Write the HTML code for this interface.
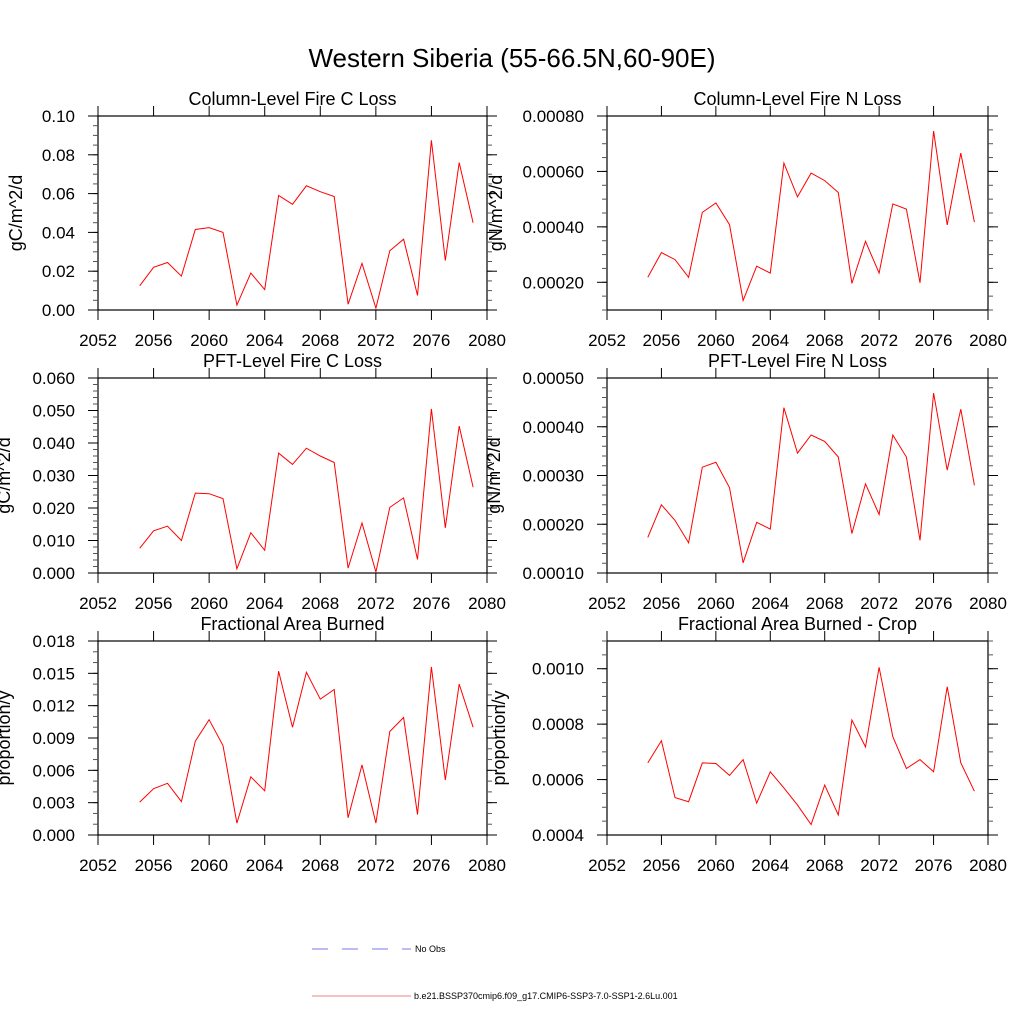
<!DOCTYPE html>
<html><head><meta charset="utf-8"><style>
body{margin:0;background:#fff}
svg{display:block;font-family:"Liberation Sans",sans-serif}
</style></head><body>
<svg id="chart" width="1024" height="1024" viewBox="0 0 1024 1024" xmlns="http://www.w3.org/2000/svg">
<rect width="1024" height="1024" fill="#fff"/>
<text x="512" y="67" font-size="26" text-anchor="middle">Western Siberia (55-66.5N,60-90E)</text>
<g id="panels"></g>
<g>
<line x1="312" y1="949" x2="411" y2="949" stroke="#7777ee" stroke-width="1" stroke-dasharray="16,14"/>
<text x="415" y="952" font-size="9">No Obs</text>
<line x1="312" y1="996" x2="411" y2="996" stroke="#f08080" stroke-width="1"/>
<text x="414" y="999" font-size="9">b.e21.BSSP370cmip6.f09_g17.CMIP6-SSP3-7.0-SSP1-2.6Lu.001</text>
</g>
</svg>
<script>
const years = [2055,2056,2057,2058,2059,2060,2061,2062,2063,2064,2065,2066,2067,2068,2069,2070,2071,2072,2073,2074,2075,2076,2077,2078,2079];
const xTicks = [2052,2056,2060,2064,2068,2072,2076,2080];
const colC = [0.0125,0.022,0.0245,0.0175,0.0415,0.0425,0.040,0.0025,0.019,0.0105,0.059,0.0545,0.064,0.061,0.0585,0.003,0.024,0.001,0.0305,0.0365,0.0075,0.0875,0.0255,0.076,0.045];
const colN = [0.000218,0.000307,0.000282,0.000218,0.000452,0.000486,0.000408,0.000134,0.000258,0.000233,0.00063,0.000508,0.000594,0.000567,0.000524,0.000196,0.000348,0.000233,0.000483,0.000464,0.000198,0.000746,0.000407,0.000666,0.000417];
const pftC = [0.0076,0.013,0.0144,0.010,0.0246,0.0244,0.0229,0.0013,0.0124,0.007,0.0369,0.0334,0.0384,0.036,0.034,0.0015,0.0154,0.0003,0.0202,0.0231,0.0042,0.0505,0.0139,0.0452,0.0264];
const pftN = [0.000173,0.00024,0.000208,0.000162,0.000317,0.000327,0.000275,0.000121,0.000204,0.00019,0.000439,0.000346,0.000383,0.00037,0.000338,0.000181,0.000283,0.00022,0.000383,0.000338,0.000167,0.000469,0.000311,0.000436,0.00028];
const fab = [0.00305,0.0043,0.0048,0.0031,0.0087,0.0107,0.0083,0.0011,0.0054,0.0041,0.0152,0.0100,0.0151,0.0126,0.0135,0.0016,0.0065,0.0011,0.0096,0.0109,0.0019,0.0156,0.0051,0.0140,0.0100];
const fabCrop = [0.00066,0.00074,0.000535,0.00052,0.00066,0.000658,0.000615,0.000672,0.000515,0.000628,0.00057,0.000508,0.000438,0.00058,0.000472,0.000815,0.000718,0.001005,0.000755,0.00064,0.000672,0.000628,0.000935,0.00066,0.000558];
const ticksColC = [0.00,0.02,0.04,0.06,0.08,0.10];
const labelsColC = ["0.00","0.02","0.04","0.06","0.08","0.10"];
const ticksColN = [0.0002,0.0004,0.0006,0.0008];
const labelsColN = ["0.00020","0.00040","0.00060","0.00080"];
const ticksPftC = [0,0.01,0.02,0.03,0.04,0.05,0.06];
const labelsPftC = ["0.000","0.010","0.020","0.030","0.040","0.050","0.060"];
const ticksPftN = [0.0001,0.0002,0.0003,0.0004,0.0005];
const labelsPftN = ["0.00010","0.00020","0.00030","0.00040","0.00050"];
const ticksFab = [0,0.003,0.006,0.009,0.012,0.015,0.018];
const labelsFab = ["0.000","0.003","0.006","0.009","0.012","0.015","0.018"];
const ticksCrop = [0.0004,0.0006,0.0008,0.0010];
const labelsCrop = ["0.0004","0.0006","0.0008","0.0010"];

const NS="http://www.w3.org/2000/svg";
const root=document.getElementById('panels');
function mk(tag,attrs,parent){const e=document.createElementNS(NS,tag);for(const k in attrs)e.setAttribute(k,attrs[k]);parent.appendChild(e);return e;}

function panel(cfg){
  const g=mk('g',{},root);
  
  
  const L=cfg.x0,R=cfg.x1,T=cfg.y0,B=cfg.y1;
  const xs=v=>L+(v-2052)/(2080-2052)*(R-L);
  const ys=v=>B-(v-cfg.ymin)/(cfg.ymax-cfg.ymin)*(B-T);
  const fr=mk('rect',{x:L,y:T,width:R-L,height:B-T,fill:'none',stroke:'#000','stroke-width':1.2},g);
  
  
  // x ticks
  xTicks.forEach(t=>{
    const x=xs(t);
    mk('line',{x1:x,y1:B,x2:x,y2:B+10,stroke:'#000'},g);
    mk('line',{x1:x,y1:T,x2:x,y2:T-10,stroke:'#000'},g);
    const tx=mk('text',{x:x,y:B+36,'font-size':17,'text-anchor':'middle'},g);
    
    
    tx.textContent=t;
  });
  // minor y ticks
  for(let v=cfg.ymin;v<=cfg.ymax+1e-12;v+=cfg.minor){
    const y=ys(v);
    mk('line',{x1:L,y1:y,x2:L-5,y2:y,stroke:'#555'},g);
    mk('line',{x1:R,y1:y,x2:R+5,y2:y,stroke:'#555'},g);
  }
  cfg.ticks.forEach((t,i)=>{
    const y=ys(t);
    mk('line',{x1:L,y1:y,x2:L-10,y2:y,stroke:'#000'},g);
    mk('line',{x1:R,y1:y,x2:R+10,y2:y,stroke:'#000'},g);
    const tx=mk('text',{x:L-23,y:y+6,'font-size':17,'text-anchor':'end'},g);
    
    
    tx.textContent=cfg.labels[i];
  });
  const tt=mk('text',{x:(L+R)/2,y:cfg.titleY,'font-size':18,'text-anchor':'middle'},g);
  
  
  tt.textContent=cfg.title;
  const cy=(T+B)/2;
  const yl=mk('text',{x:cfg.ylx,y:cy,'font-size':18,'text-anchor':'middle',transform:`rotate(-90 ${cfg.ylx} ${cy})`},g);
  
  
  yl.textContent=cfg.ylabel;
  const pts=years.map((yr,i)=>xs(yr).toFixed(1)+','+ys(cfg.data[i]).toFixed(1)).join(' ');
  const pl=mk('polyline',{points:pts,fill:'none',stroke:'#ff0000','stroke-width':1},g);
  
  
}
panel({name:'panel-column-fire-c-loss',x0:98,x1:487,y0:116,y1:310,ymin:0,ymax:0.10,minor:0.005,ticks:ticksColC,labels:labelsColC,data:colC,title:'Column-Level Fire C Loss',titleY:105,ylabel:'gC/m^2/d',ylx:22});
panel({name:'panel-column-fire-n-loss',x0:607,x1:988,y0:116,y1:310,ymin:0.0001,ymax:0.0008,minor:0.00005,ticks:ticksColN,labels:labelsColN,data:colN,title:'Column-Level Fire N Loss',titleY:105,ylabel:'gN/m^2/d',ylx:502});
panel({name:'panel-pft-fire-c-loss',x0:98,x1:487,y0:378,y1:573,ymin:0,ymax:0.06,minor:0.002,ticks:ticksPftC,labels:labelsPftC,data:pftC,title:'PFT-Level Fire C Loss',titleY:367,ylabel:'gC/m^2/d',ylx:10});
panel({name:'panel-pft-fire-n-loss',x0:607,x1:988,y0:378,y1:573,ymin:0.0001,ymax:0.0005,minor:0.00002,ticks:ticksPftN,labels:labelsPftN,data:pftN,title:'PFT-Level Fire N Loss',titleY:367,ylabel:'gN/m^2/d',ylx:500});
panel({name:'panel-fractional-area-burned',x0:98,x1:487,y0:641,y1:835,ymin:0,ymax:0.018,minor:0.001,ticks:ticksFab,labels:labelsFab,data:fab,title:'Fractional Area Burned',titleY:630,ylabel:'proportion/y',ylx:10});
panel({name:'panel-fractional-area-burned-crop',x0:607,x1:988,y0:641,y1:835,ymin:0.0004,ymax:0.0011,minor:0.00005,ticks:ticksCrop,labels:labelsCrop,data:fabCrop,title:'Fractional Area Burned - Crop',titleY:630,ylabel:'proportion/y',ylx:505});
</script>
</body></html>
